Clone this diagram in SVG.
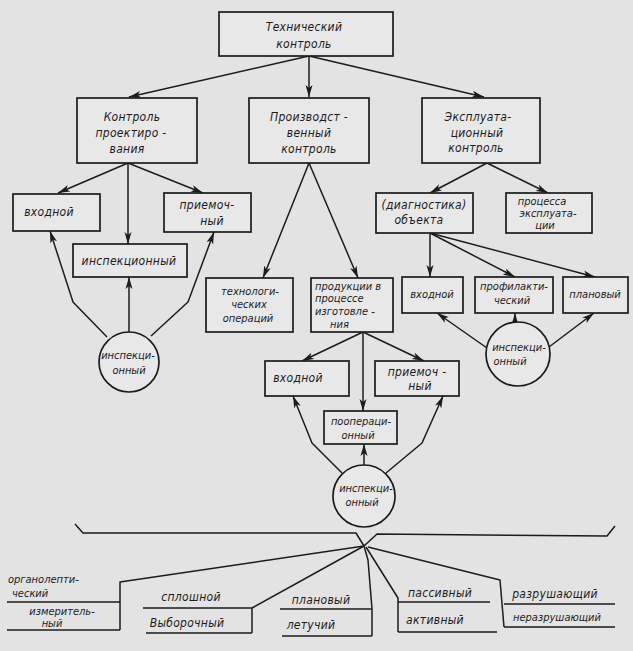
<svg xmlns="http://www.w3.org/2000/svg" width="633" height="651" viewBox="0 0 633 651">
<style>
.bg{fill:#e3e3e3}
.b{fill:#e8e8e8;stroke:#1c1c1c;stroke-width:1.7}
.c{fill:#e8e8e8;stroke:#1c1c1c;stroke-width:1.7}
.l{fill:none;stroke:#1c1c1c;stroke-width:1.5;stroke-linejoin:round}
.t{font-family:"DejaVu Sans Condensed","DejaVu Sans",sans-serif;font-style:oblique;font-size:12px;letter-spacing:0.3px;fill:#1c1c1c;text-anchor:middle}
.sm{font-size:11px;letter-spacing:0}
.s{text-anchor:start}
</style>
<defs>
<marker id="a" viewBox="0 0 12 8" refX="12" refY="4" markerWidth="12" markerHeight="8" markerUnits="userSpaceOnUse" orient="auto">
<path d="M0,0.5 L12,4 L0,7.5 L3,4 Z" fill="#1c1c1c"/>
</marker>
</defs>
<rect class="bg" x="0" y="0" width="633" height="651"/>

<g id="connectors">
<path class="l" marker-end="url(#a)" d="M309,56 L129,97"/>
<path class="l" marker-end="url(#a)" d="M309,56 L309,97"/>
<path class="l" marker-end="url(#a)" d="M309,56 L484,97"/>
<path class="l" marker-end="url(#a)" d="M128,163 L58,193"/>
<path class="l" marker-end="url(#a)" d="M128,163 L203,193"/>
<path class="l" marker-end="url(#a)" d="M128,163 L128,244"/>
<path class="l" marker-end="url(#a)" d="M309,163 L263,278"/>
<path class="l" marker-end="url(#a)" d="M309,163 L358,278"/>
<path class="l" marker-end="url(#a)" d="M487,163 L430,193"/>
<path class="l" marker-end="url(#a)" d="M487,163 L548,193"/>
<path class="l" marker-end="url(#a)" d="M430,233 L430,277"/>
<path class="l" marker-end="url(#a)" d="M430,233 L515,277"/>
<path class="l" marker-end="url(#a)" d="M430,233 L595,277"/>
<path class="l" marker-end="url(#a)" d="M363,332 L302,361"/>
<path class="l" marker-end="url(#a)" d="M363,332 L424,361"/>
<path class="l" marker-end="url(#a)" d="M363,332 L363,411"/>
<path class="l" marker-end="url(#a)" d="M107,337 L73,302 L50,231"/>
<path class="l" marker-end="url(#a)" d="M151,336 L188,302 L214,232"/>
<path class="l" marker-end="url(#a)" d="M129,332 L129,277"/>
<path class="l" marker-end="url(#a)" d="M342,473 L312,443 L293,396"/>
<path class="l" marker-end="url(#a)" d="M386,473 L422,443 L443,396"/>
<path class="l" marker-end="url(#a)" d="M364,465 L364,444"/>
<path class="l" marker-end="url(#a)" d="M487,348 L437,313"/>
<path class="l" marker-end="url(#a)" d="M515,322 L515,313"/>
<path class="l" marker-end="url(#a)" d="M549,347 L594,313"/>
</g>

<g id="n-tech"><rect class="b" x="219" y="12" width="174" height="44"/>
<text class="t" x="304" y="31">Технический</text><text class="t" x="304" y="48">контроль</text></g>

<g id="n-proj"><rect class="b" x="77" y="98" width="120" height="65"/>
<text class="t" x="132" y="121">Контроль</text><text class="t" x="131" y="137">проектиро -</text><text class="t" x="127" y="153">вания</text></g>

<g id="n-prod"><rect class="b" x="249" y="98" width="120" height="65"/>
<text class="t" x="309" y="121">Производст -</text><text class="t" x="309" y="137">венный</text><text class="t" x="309" y="153">контроль</text></g>

<g id="n-expl"><rect class="b" x="422" y="98" width="118" height="65"/>
<text class="t" x="478" y="121">Эксплуата-</text><text class="t" x="477" y="137">ционный</text><text class="t" x="476" y="152">контроль</text></g>

<g id="n-vhod1"><rect class="b" x="13" y="194" width="87" height="37"/>
<text class="t" x="49" y="216">входной</text></g>

<g id="n-priem1"><rect class="b" x="164" y="193" width="87" height="39"/>
<text class="t" x="207" y="209">приемоч-</text><text class="t" x="212" y="225">ный</text></g>

<g id="n-insp1"><rect class="b" x="73" y="244" width="114" height="33"/>
<text class="t" x="129" y="265">инспекционный</text></g>

<g id="n-circ1"><circle class="c" cx="129" cy="362" r="30"/>
<text class="t sm" x="128" y="359">инспекци-</text><text class="t sm" x="129" y="374">онный</text></g>

<g id="n-techop"><rect class="b" x="206" y="278" width="87" height="54"/>
<text class="t sm" x="250" y="295">технологи-</text><text class="t sm" x="249" y="308">ческих</text><text class="t sm" x="248" y="322">операций</text></g>

<g id="n-produk"><rect class="b" x="311" y="278" width="82" height="54"/>
<text class="t sm s" x="315" y="290">продукции в</text><text class="t sm s" x="315" y="302">процессе</text><text class="t sm s" x="315" y="315">изготовле -</text><text class="t sm s" x="330" y="328">ния</text></g>

<g id="n-vhod2"><rect class="b" x="265" y="361" width="84" height="35"/>
<text class="t" x="298" y="382">входной</text></g>

<g id="n-priem2"><rect class="b" x="375" y="361" width="84" height="35"/>
<text class="t" x="417" y="376">приемоч -</text><text class="t" x="420" y="390">ный</text></g>

<g id="n-pooper"><rect class="b" x="324" y="411" width="73" height="33"/>
<text class="t sm" x="361" y="425">поопераци-</text><text class="t sm" x="358" y="439">онный</text></g>

<g id="n-circ2"><circle class="c" cx="364" cy="496" r="31"/>
<text class="t sm" x="366" y="492">инспекци-</text><text class="t sm" x="362" y="506">онный</text></g>

<g id="n-diag"><rect class="b" x="376" y="193" width="97" height="40"/>
<text class="t" x="424" y="209">(диагностика)</text><text class="t" x="419" y="224">объекта</text></g>

<g id="n-proc"><rect class="b" x="506" y="193" width="86" height="40"/>
<text class="t sm" x="542" y="205">процесса</text><text class="t sm" x="548" y="217">эксплуата-</text><text class="t sm" x="545" y="229">ции</text></g>

<g id="n-vhod3"><rect class="b" x="402" y="277" width="61" height="36"/>
<text class="t sm" x="432" y="298">входной</text></g>

<g id="n-profil"><rect class="b" x="475" y="277" width="78" height="36"/>
<text class="t sm" x="514" y="290">профилакти-</text><text class="t sm" x="512" y="304">ческий</text></g>

<g id="n-plan"><rect class="b" x="563" y="277" width="65" height="36"/>
<text class="t sm" x="595" y="298">плановый</text></g>

<g id="n-circ3"><circle class="c" cx="518" cy="354" r="32"/>
<text class="t sm" x="519" y="351">инспекци-</text><text class="t sm" x="510" y="365">онный</text></g>

<g id="classification">
<path class="l" d="M75,524 L83,533 L356,533 L364,546 L377,534 L607,536 L615,526"/>
<path class="l" d="M364,546 L120,582 L120,630 M7,602 L120,602 M7,630 L120,630"/>
<path class="l" d="M364,546 L252,608 L252,633 M143,608 L252,608 M146,633 L252,633"/>
<path class="l" d="M364,546 L368,560 L372,609 L372,636 M280,609 L372,609 M282,636 L372,636"/>
<path class="l" d="M366,547 L398,598 L398,632 M398,602 L490,602 M398,632 L497,632"/>
<path class="l" d="M368,547 L500,580 L504,627 M504,604 L615,604 M504,627 L615,627"/>
<text class="t sm s" x="8" y="583">органолепти-</text>
<text class="t sm s" x="12" y="597">ческий</text>
<text class="t sm" x="62" y="615">измеритель-</text>
<text class="t sm" x="52" y="627">ный</text>
<text class="t" x="191" y="601">сплошной</text>
<text class="t" x="187" y="627">Выборочный</text>
<text class="t" x="321" y="604">плановый</text>
<text class="t" x="311" y="629">летучий</text>
<text class="t" x="440" y="597">пассивный</text>
<text class="t" x="435" y="624">активный</text>
<text class="t" x="555" y="598">разрушающий</text>
<text class="t sm" x="557" y="621">неразрушающий</text>
</g>
</svg>
